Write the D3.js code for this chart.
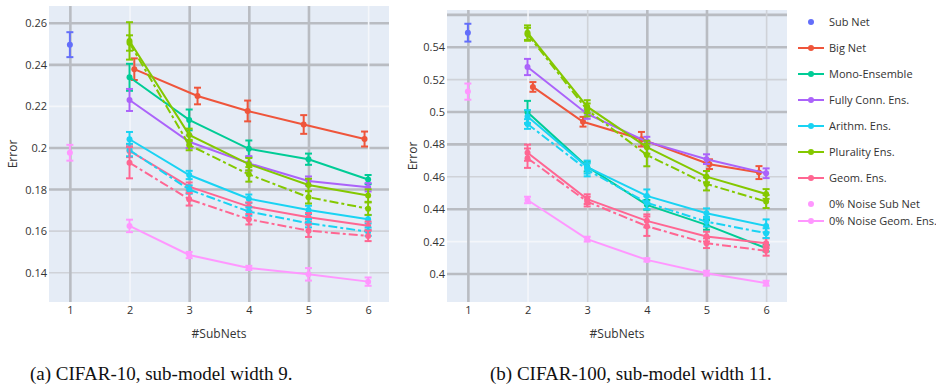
<!DOCTYPE html>
<html>
<head>
<meta charset="utf-8">
<script src="https://cdn.jsdelivr.net/npm/d3@7"></script>
<style>
  body { margin: 0; background: #fff; }
  svg { display: block; }
  text { font-family: "Open Sans", sans-serif; fill: #333; }
</style>
</head>
<body>
<svg id="fig" width="936" height="389"></svg>
<script>
// ---- data ----
const subNets = [2, 3, 4, 5, 6];
const c10Ticks = [0.14, 0.16, 0.18, 0.2, 0.22, 0.24, 0.26];
const c100Ticks = [0.4, 0.42, 0.44, 0.46, 0.48, 0.5, 0.52, 0.54];

// CIFAR-10
const c10SubNet = 0.2497, c10SubNetErr = 0.006;
const c10NoiseSubNet = 0.1977, c10NoiseSubNetErr = 0.0038;
const c10BigNetX = [2.08, 3.14, 3.98, 4.92, 5.94];
const c10BigNet = [0.2379, 0.2250, 0.2178, 0.2113, 0.2043];
const c10BigNetErr = [0.0052, 0.0040, 0.0050, 0.0045, 0.0036];
const c10Mono = [0.2340, 0.2135, 0.1996, 0.1946, 0.1848];
const c10MonoErr = [0.0065, 0.0050, 0.0040, 0.0027, 0.0022];
const c10Fully = [0.2231, 0.2030, 0.1926, 0.1841, 0.1811];
const c10FullyErr = [0.0053, 0.0030, 0.0035, 0.0022, 0.0020];
const c10Arithm = [0.2042, 0.1870, 0.1756, 0.1702, 0.1657];
const c10ArithmErr = [0.0035, 0.0020, 0.0020, 0.0020, 0.0020];
const c10Plural = [0.2515, 0.2063, 0.1922, 0.1822, 0.1771];
const c10PluralErr = [0.0090, 0.0030, 0.0030, 0.0030, 0.0030];
const c10Geom = [0.1986, 0.1814, 0.1718, 0.1667, 0.1626];
const c10GeomErr = [0.0030, 0.0020, 0.0020, 0.0020, 0.0020];
const c10ArithmDash = [0.1990, 0.1800, 0.1694, 0.1638, 0.1597];
const c10ArithmDashErr = [0.0030, 0.0020, 0.0020, 0.0020, 0.0020];
const c10PluralDash = [0.2505, 0.2014, 0.1873, 0.1763, 0.1708];
const c10PluralDashErr = [0.0037, 0.0025, 0.0035, 0.0030, 0.0030];
const c10GeomDash = [0.1929, 0.1753, 0.1657, 0.1602, 0.1577];
const c10GeomDashErr = [0.0075, 0.0030, 0.0025, 0.0030, 0.0025];
const c10NoiseGeom = [0.1625, 0.1485, 0.1423, 0.1392, 0.1357];
const c10NoiseGeomErr = [0.0030, 0.0015, 0.0010, 0.0030, 0.0020];

// CIFAR-100
const c100SubNet = 0.5490, c100SubNetErr = 0.0055;
const c100NoiseSubNet = 0.5126, c100NoiseSubNetErr = 0.005;
const c100BigNetX = [2.09, 2.93, 3.91, 5.05, 5.88];
const c100BigNet = [0.5155, 0.4940, 0.4832, 0.4678, 0.4626];
const c100BigNetErr = [0.0030, 0.0030, 0.0045, 0.0030, 0.0040];
const c100Mono = [0.4999, 0.4663, 0.4427, 0.4303, 0.4159];
const c100MonoErr = [0.0070, 0.0030, 0.0030, 0.0030, 0.0020];
const c100Fully = [0.5278, 0.4988, 0.4817, 0.4709, 0.4622];
const c100FullyErr = [0.0050, 0.0030, 0.0030, 0.0030, 0.0030];
const c100Arithm = [0.4972, 0.4660, 0.4482, 0.4375, 0.4297];
const c100ArithmErr = [0.0040, 0.0040, 0.0040, 0.0030, 0.0040];
const c100Plural = [0.5490, 0.5033, 0.4783, 0.4601, 0.4494];
const c100PluralErr = [0.0045, 0.0040, 0.0040, 0.0035, 0.0030];
const c100Geom = [0.4749, 0.4462, 0.4328, 0.4231, 0.4190];
const c100GeomErr = [0.0050, 0.0030, 0.0040, 0.0030, 0.0030];
const c100ArithmDash = [0.4926, 0.4643, 0.4440, 0.4323, 0.4252];
const c100ArithmDashErr = [0.0030, 0.0040, 0.0040, 0.0030, 0.0030];
const c100PluralDash = [0.5480, 0.5013, 0.4735, 0.4556, 0.4447];
const c100PluralDashErr = [0.0040, 0.0040, 0.0070, 0.0040, 0.0040];
const c100GeomDash = [0.4715, 0.4447, 0.4295, 0.4190, 0.4143];
const c100GeomDashErr = [0.0060, 0.0030, 0.0060, 0.0030, 0.0030];
const c100NoiseGeom = [0.4457, 0.4215, 0.4087, 0.4005, 0.3943];
const c100NoiseGeomErr = [0.0020, 0.0015, 0.0010, 0.0015, 0.0015];

const legendNames = ["Sub Net", "Big Net", "Mono-Ensemble", "Fully Conn. Ens.", "Arithm. Ens.",
  "Plurality Ens.", "Geom. Ens.", "0% Noise Sub Net", "0% Noise Geom. Ens."];
const colors = {
  "Sub Net": "#636efa", "Big Net": "#ef553b", "Mono-Ensemble": "#00cc96",
  "Fully Conn. Ens.": "#ab63fa", "Arithm. Ens.": "#19d3f3", "Plurality Ens.": "#84c800",
  "Geom. Ens.": "#ff6692", "0% Noise Sub Net": "#ff97ff", "0% Noise Geom. Ens.": "#ff97ff"
};

function traces(d) {
  // builds trace list in draw order
  const pts = (xs, ys, es) => ys.map((v, i) => ({ x: xs[i], y: v, e: es[i] }));
  return [
    { name: "Sub Net", line: false, pts: [{ x: 1, y: d.sub, e: d.subErr }] },
    { name: "Big Net", line: true, pts: pts(d.bigX, d.big, d.bigErr) },
    { name: "Mono-Ensemble", line: true, pts: pts(subNets, d.mono, d.monoErr) },
    { name: "Fully Conn. Ens.", line: true, pts: pts(subNets, d.fully, d.fullyErr) },
    { name: "Arithm. Ens.", line: true, pts: pts(subNets, d.arithm, d.arithmErr) },
    { name: "Plurality Ens.", line: true, pts: pts(subNets, d.plural, d.pluralErr) },
    { name: "Geom. Ens.", line: true, pts: pts(subNets, d.geom, d.geomErr) },
    { name: "Arithm. Ens.", line: true, dash: true, pts: pts(subNets, d.arithmD, d.arithmDErr) },
    { name: "Plurality Ens.", line: true, dash: true, pts: pts(subNets, d.pluralD, d.pluralDErr) },
    { name: "Geom. Ens.", line: true, dash: true, pts: pts(subNets, d.geomD, d.geomDErr) },
    { name: "0% Noise Sub Net", line: false, pts: [{ x: 1, y: d.nsub, e: d.nsubErr }] },
    { name: "0% Noise Geom. Ens.", line: true, pts: pts(subNets, d.ngeom, d.ngeomErr) }
  ];
}

const svg = d3.select("#fig");

function panel(cfg) {
  const w = cfg.right - cfg.left, h = cfg.bottom - cfg.top;
  const g = svg.append("g").attr("transform", "translate(" + cfg.left + "," + cfg.top + ")");
  const x = d3.scaleLinear().domain([0.65, 6.35]).range([0, w]);
  const y = d3.scaleLinear().domain(cfg.yDomain).range([h, 0]);

  g.append("rect").attr("width", w).attr("height", h).attr("fill", "#e5ecf6");

  // grid lines: some show up strong grey, some pale
  const gridStyle = (sel, strong) => sel
    .attr("stroke", (d, i) => strong[i] === 2 ? "#b9bcc2" : strong[i] === 1 ? "#cfd2d8" : "#f4f6fa")
    .attr("stroke-width", (d, i) => strong[i] === 2 ? 2.6 : 1.6);

  const gridY = cfg.gridY;
  gridStyle(g.append("g").selectAll("line").data(gridY).join("line")
    .attr("x1", 0).attr("x2", w).attr("y1", d => y(d)).attr("y2", d => y(d)), cfg.gridYStrong);

  const ax = g.append("g").attr("transform", "translate(0," + h + ")")
    .call(d3.axisBottom(x).tickValues([1, 2, 3, 4, 5, 6]).tickFormat(d3.format("d")).tickSize(-h).tickPadding(4));
  ax.select(".domain").remove();
  gridStyle(ax.selectAll(".tick line"), cfg.gridXStrong);
  ax.selectAll("text").attr("font-size", 11).attr("font-family", "Open Sans").attr("fill", "#333");

  const ay = g.append("g")
    .call(d3.axisLeft(y).tickValues(cfg.yTicks).tickFormat(d => String(+d.toFixed(2))).tickSize(0).tickPadding(2));
  ay.select(".domain").remove();
  ay.selectAll("text").attr("font-size", 11).attr("font-family", "Open Sans").attr("fill", "#333");

  // axis titles
  g.append("text").attr("x", w / 2).attr("y", h + 36).attr("text-anchor", "middle")
    .attr("font-size", 12).text("#SubNets");
  g.append("text").attr("transform", "translate(" + (cfg.titleX - cfg.left) + "," + (h / 2) + ") rotate(-90)")
    .attr("text-anchor", "middle").attr("dy", "0.35em").attr("font-size", 12).text("Error");

  const plot = g.append("g");
  const line = d3.line().x(p => x(p.x)).y(p => y(p.y));
  traces(cfg.data).forEach(t => {
    const c = colors[t.name];
    const tg = plot.append("g");
    if (t.line) {
      tg.append("path").datum(t.pts).attr("d", line).attr("fill", "none")
        .attr("stroke", c).attr("stroke-width", 2)
        .attr("stroke-dasharray", t.dash ? "9,3,3,3" : null);
    }
    const eb = tg.selectAll("g.eb").data(t.pts).join("g").attr("stroke", c).attr("stroke-width", 2);
    eb.append("line").attr("x1", p => x(p.x)).attr("x2", p => x(p.x))
      .attr("y1", p => y(p.y - p.e)).attr("y2", p => y(p.y + p.e));
    eb.append("line").attr("x1", p => x(p.x) - 3.5).attr("x2", p => x(p.x) + 3.5)
      .attr("y1", p => y(p.y + p.e)).attr("y2", p => y(p.y + p.e));
    eb.append("line").attr("x1", p => x(p.x) - 3.5).attr("x2", p => x(p.x) + 3.5)
      .attr("y1", p => y(p.y - p.e)).attr("y2", p => y(p.y - p.e));
    tg.selectAll("circle").data(t.pts).join("circle")
      .attr("cx", p => x(p.x)).attr("cy", p => y(p.y)).attr("r", 3).attr("fill", c);
  });
}

panel({
  left: 49, right: 389, top: 6, bottom: 302, titleX: 13,
  yDomain: [0.1259, 0.2683], yTicks: c10Ticks,
  gridY: c10Ticks, gridYStrong: [1, 1, 2, 2, 0, 2, 2],
  gridXStrong: [2, 0, 2, 2, 2, 0],
  data: {
    sub: c10SubNet, subErr: c10SubNetErr, nsub: c10NoiseSubNet, nsubErr: c10NoiseSubNetErr,
    bigX: c10BigNetX, big: c10BigNet, bigErr: c10BigNetErr,
    mono: c10Mono, monoErr: c10MonoErr, fully: c10Fully, fullyErr: c10FullyErr,
    arithm: c10Arithm, arithmErr: c10ArithmErr, plural: c10Plural, pluralErr: c10PluralErr,
    geom: c10Geom, geomErr: c10GeomErr, arithmD: c10ArithmDash, arithmDErr: c10ArithmDashErr,
    pluralD: c10PluralDash, pluralDErr: c10PluralDashErr, geomD: c10GeomDash, geomDErr: c10GeomDashErr,
    ngeom: c10NoiseGeom, ngeomErr: c10NoiseGeomErr
  }
});

panel({
  left: 447, right: 787, top: 10, bottom: 302, titleX: 413,
  yDomain: [0.3827, 0.563], yTicks: c100Ticks,
  gridY: c100Ticks.concat([0.56]), gridYStrong: [2, 0, 2, 1, 2, 2, 1, 2, 2],
  gridXStrong: [2, 0, 1, 2, 2, 1],
  data: {
    sub: c100SubNet, subErr: c100SubNetErr, nsub: c100NoiseSubNet, nsubErr: c100NoiseSubNetErr,
    bigX: c100BigNetX, big: c100BigNet, bigErr: c100BigNetErr,
    mono: c100Mono, monoErr: c100MonoErr, fully: c100Fully, fullyErr: c100FullyErr,
    arithm: c100Arithm, arithmErr: c100ArithmErr, plural: c100Plural, pluralErr: c100PluralErr,
    geom: c100Geom, geomErr: c100GeomErr, arithmD: c100ArithmDash, arithmDErr: c100ArithmDashErr,
    pluralD: c100PluralDash, pluralDErr: c100PluralDashErr, geomD: c100GeomDash, geomDErr: c100GeomDashErr,
    ngeom: c100NoiseGeom, ngeomErr: c100NoiseGeomErr
  }
});

// legend
const legendY = [22, 48, 74, 100, 126, 152, 178, 204, 221];
const lg = svg.append("g").selectAll("g").data(legendNames).join("g")
  .attr("transform", (d, i) => "translate(798," + legendY[i] + ")");
lg.filter(d => d !== "Sub Net" && d !== "0% Noise Sub Net").append("line")
  .attr("x1", 0).attr("x2", 26).attr("stroke", d => colors[d]).attr("stroke-width", 2);
lg.append("circle").attr("cx", 13).attr("r", 3).attr("fill", d => colors[d]);
lg.append("text").attr("x", 31).attr("dy", "0.35em").attr("font-size", 11).text(d => d);

// captions
const caps = svg.append("g").attr("font-family", "Liberation Serif").attr("font-size", 19);
caps.append("text").attr("x", 30).attr("y", 380).style("font-family", "Liberation Serif").style("fill", "#111")
  .text("(a) CIFAR-10, sub-model width 9.");
caps.append("text").attr("x", 490).attr("y", 380).style("font-family", "Liberation Serif").style("fill", "#111")
  .text("(b) CIFAR-100, sub-model width 11.");
</script>
</body>
</html>
